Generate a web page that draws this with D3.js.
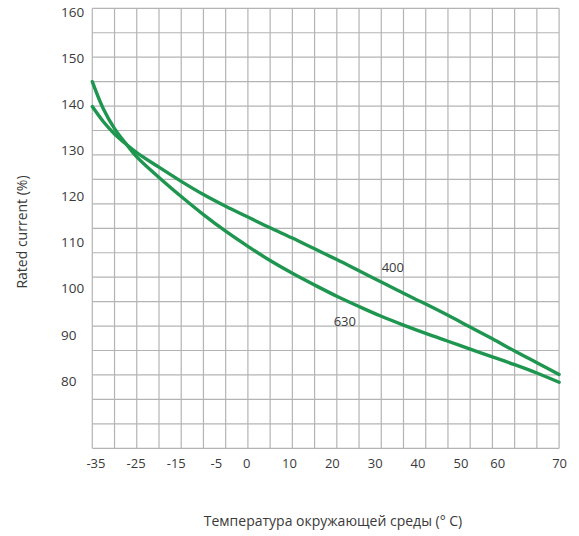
<!DOCTYPE html>
<html>
<head>
<meta charset="utf-8">
<script src="https://cdn.jsdelivr.net/npm/d3@7"></script>
<style>
  html, body { margin: 0; padding: 0; background: #fff; }
  svg { display: block; font-family: "Open Sans", "Noto Sans", sans-serif; }
</style>
</head>
<body>
<svg id="chart" width="579" height="536"></svg>
<script>
// ---- data ----
const temps = [-35, -32.5, -30, -27.5, -25, -20, -15, -10, -5, 0, 5, 10, 15, 20, 25, 30, 35, 40, 45, 50, 55, 60, 65, 70];
const current400 = [139.9, 136.8, 134.3, 132.3, 130.5, 127.5, 124.6, 121.9, 119.5, 117.3, 115.1, 113.0, 110.8, 108.6, 106.3, 104.0, 101.7, 99.5, 97.2, 94.8, 92.4, 89.9, 87.5, 85.1];
const current630 = [145.0, 139.4, 135.4, 132.4, 129.6, 125.4, 121.5, 117.8, 114.4, 111.3, 108.4, 105.8, 103.4, 101.1, 99.0, 97.0, 95.2, 93.5, 91.9, 90.3, 88.7, 87.1, 85.4, 83.5];
const seriesNames = ["400", "630"];
const seriesLabelAt = [[32.6, 106.9], [21.8, 96.0]];
const xTickLabels = [-35, -25, -15, -5, 0, 10, 20, 30, 40, 50, 60, 70];
const yTickLabels = [80, 90, 100, 110, 120, 130, 140, 150, 160];
const xTitle = "Температура окружающей среды (° C)";
const yTitle = "Rated current (%)";

// ---- layout ----
const svg = d3.select("#chart");
const mLeft = 92.3, mRight = 559.1, mTop = 8.3, mBottom = 448.3;
const gridColor = "#b4b4b4";
const lineColor = "#1f9650";
const textColor = "#3a3a3a";

const x = d3.scaleLinear().domain([-35, 70]).range([mLeft, mRight]);
const y = d3.scaleLinear().domain([70, 160]).range([mBottom, mTop]);

// label scales (the original's printed tick labels do not sit exactly on the grid)
const xLab = d3.scaleLinear()
  .domain([-35, -5, 0, 50, 60, 70])
  .range([x(-34.3), x(-7.2), x(-0.4), x(47.8), x(56.1), x(70)]);
const yLab = d3.scaleLinear().domain([80, 160]).range([y(83.8), y(159.3)]);

// grid
const g = svg.append("g");
g.selectAll("line.v").data(d3.range(-35, 70.01, 5)).join("line")
  .attr("class", "v")
  .attr("x1", d => x(d)).attr("x2", d => x(d))
  .attr("y1", mTop).attr("y2", mBottom)
  .attr("stroke", gridColor).attr("stroke-width", 1.2);
g.selectAll("line.h").data(d3.range(70, 160.01, 5)).join("line")
  .attr("class", "h")
  .attr("x1", mLeft).attr("x2", mRight)
  .attr("y1", d => y(d)).attr("y2", d => y(d))
  .attr("stroke", gridColor).attr("stroke-width", 1.2);

// x axis labels
const xAxis = d3.axisBottom(xLab).tickValues(xTickLabels).tickSize(0).tickPadding(0).tickFormat(d => String(d));
svg.append("g").attr("transform", `translate(0,${mBottom + 15})`).call(xAxis)
  .call(s => s.select(".domain").remove())
  .call(s => s.selectAll("text").attr("fill", textColor).attr("font-size", 13)
    .attr("font-family", "'Open Sans', sans-serif").attr("dy", "0.35em").attr("y", 0));

// y axis labels (left-aligned)
const yAxis = d3.axisLeft(yLab).tickValues(yTickLabels).tickSize(0).tickPadding(0);
svg.append("g").attr("transform", `translate(61,0)`).call(yAxis)
  .call(s => s.select(".domain").remove())
  .call(s => s.selectAll("text").attr("fill", textColor).attr("font-size", 13.5)
    .attr("font-family", "'Open Sans', sans-serif").attr("text-anchor", "start").attr("x", 0));

// curves
const line = d3.line().x(d => x(d[0])).y(d => y(d[1])).curve(d3.curveCatmullRom.alpha(0.5));
[current400, current630].forEach((vals, i) => {
  svg.append("path")
    .datum(temps.map((t, j) => [t, vals[j]]))
    .attr("d", line)
    .attr("fill", "none")
    .attr("stroke", lineColor)
    .attr("stroke-width", 3.4)
    .attr("stroke-linecap", "round");
  svg.append("text")
    .attr("x", x(seriesLabelAt[i][0])).attr("y", y(seriesLabelAt[i][1]))
    .attr("text-anchor", "middle").attr("dy", "0.35em")
    .attr("font-size", 13).attr("fill", textColor)
    .text(seriesNames[i]);
});

// titles
svg.append("text").attr("x", 333).attr("y", 521)
  .attr("text-anchor", "middle").attr("dy", "0.35em")
  .attr("font-size", 14).attr("fill", textColor).text(xTitle);
svg.append("text")
  .attr("transform", "translate(22,232) rotate(-90)")
  .attr("text-anchor", "middle").attr("dy", "0.35em")
  .attr("font-size", 14).attr("fill", textColor).text(yTitle);
</script>
</body>
</html>
